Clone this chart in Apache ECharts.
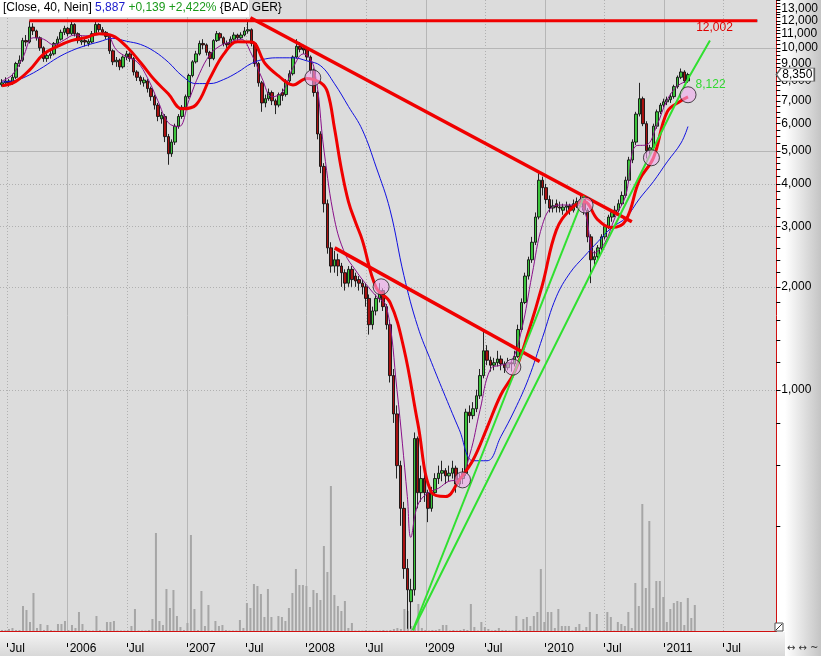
<!DOCTYPE html>
<html><head><meta charset="utf-8">
<script src="https://cdn.jsdelivr.net/npm/echarts@6/dist/echarts.min.js"></script>
<style>html,body{margin:0;padding:0;background:#fff;}#c{width:821px;height:656px;}</style>
</head><body><div id="c"></div>
<script>
// ---------------- data ----------------
const axisStartDate = '2005-06-08';
const axisEndDate = '2011-12-09';
const firstBarDate = '2005-06-14';
const barDays = 10.6;               // period length of one bar
// [open, close, low, high]
const ohlc = [
[7.8,7.9,7.7,8.1],[7.9,8.0,7.8,8.2],[8.0,7.9,7.7,8.1],[7.9,8.2,7.8,8.4],[8.2,9.0,8.1,9.1],
[9.0,9.2,8.8,9.5],[9.2,10.5,9.1,10.7],[10.5,10.4,10.1,10.9],[10.4,11.5,10.3,12.0],[11.5,11.2,10.9,11.8],
[11.2,10.7,10.5,11.3],[10.7,10.0,9.8,10.8],[10.0,9.3,9.1,10.1],[9.3,9.5,9.1,9.8],[9.5,9.6,9.3,9.9],
[9.6,10.3,9.5,10.4],[10.3,10.6,10.1,10.8],[10.6,11.1,10.5,11.3],[11.1,11.4,10.9,11.6],[11.4,11.0,10.8,11.5],
[11.0,11.7,10.9,11.9],[11.7,11.0,10.8,11.8],[11.0,10.5,10.3,11.1],[10.4,10.5,10.2,10.8],[10.5,10.4,10.1,10.7],
[10.3,10.45,10.1,10.6],[10.4,11.0,10.3,11.2],[11.0,11.7,10.9,11.95],[11.7,11.3,11.1,11.8],[11.3,11.1,10.9,11.5],
[11.1,10.8,10.6,11.2],[10.8,9.8,9.6,10.9],[9.8,9.1,8.9,9.9],[9.1,9.2,8.8,9.4],[9.2,8.8,8.6,9.3],
[8.8,9.4,8.7,9.5],[9.4,9.6,9.2,9.8],[9.6,9.3,9.1,9.7],[9.3,8.5,8.3,9.4],[8.5,8.2,8.0,8.6],
[8.2,8.0,7.8,8.3],[7.9,8.05,7.7,8.2],[8.0,7.6,7.4,8.1],[7.6,7.2,7.0,7.7],[7.2,6.8,6.6,7.3],
[6.8,6.3,6.1,6.9],[6.2,6.35,6.0,6.5],[6.3,5.5,5.3,6.4],[5.5,4.9,4.55,5.6],[4.9,5.3,4.8,5.4],
[5.3,5.9,5.2,6.0],[5.9,6.3,5.8,6.4],[6.3,6.7,6.2,6.8],[6.7,7.2,6.6,7.3],[7.2,8.3,7.1,8.4],
[8.3,9.1,8.2,9.2],[9.1,9.6,9.0,9.8],[9.6,10.3,9.5,10.5],[10.3,10.2,9.9,10.6],[10.2,9.7,9.5,10.3],
[9.7,9.3,8.8,9.8],[9.3,10.5,9.2,10.6],[10.5,11.0,10.4,11.2],[11.0,10.7,10.5,11.1],[10.7,10.3,10.1,10.8],
[10.3,10.2,10.0,10.5],[10.2,10.6,10.1,10.8],[10.6,10.9,10.5,11.1],[10.9,10.7,10.5,11.0],[10.7,10.9,10.6,11.1],
[10.9,11.2,10.8,11.5],[11.2,11.3,11.0,12.0],[11.3,10.3,10.1,11.4],[10.3,9.0,8.8,10.4],[9.0,7.9,7.7,9.1],
[7.9,6.9,6.5,8.0],[6.9,7.1,6.7,7.3],[7.1,7.4,7.0,7.6],[7.4,7.0,6.8,7.5],[7.0,6.8,6.4,7.1],
[6.8,7.3,6.7,7.4],[7.4,7.25,7.0,7.6],[7.3,8.0,7.2,8.1],[8.0,8.4,7.9,8.6],[8.4,9.4,8.3,9.5],
[9.4,10.1,9.3,10.6],[10.1,9.9,9.7,10.4],[10.0,9.85,9.6,10.2],[9.9,9.4,9.2,10.0],[9.4,8.6,8.4,9.5],
[8.6,7.4,7.2,8.7],[7.4,5.6,5.4,7.5],[5.6,4.5,4.3,5.7],[4.5,3.5,3.3,4.6],[3.5,2.6,2.5,3.6],
[2.6,2.3,2.2,2.7],[2.3,2.4,2.2,2.55],[2.4,2.3,2.15,2.5],[2.3,2.2,2.0,2.35],[2.2,2.05,1.95,2.25],
[2.05,2.25,2.0,2.3],[2.25,2.1,2.0,2.3],[2.15,2.08,2.0,2.2],[2.1,2.05,1.95,2.15],[2.05,2.0,1.9,2.1],
[2.0,1.85,1.75,2.05],[1.85,1.55,1.45,1.9],[1.55,1.7,1.5,1.75],[1.7,1.85,1.65,1.9],[1.85,1.95,1.8,2.05],
[1.95,1.75,1.7,1.98],[1.75,1.55,1.5,1.78],[1.55,1.1,1.05,1.6],[1.1,0.85,0.8,1.15],[0.85,0.6,0.55,0.9],
[0.6,0.45,0.4,0.62],[0.45,0.3,0.28,0.47],[0.3,0.26,0.2,0.32],[0.24,0.26,0.2,0.28],[0.26,0.72,0.25,0.75],
[0.72,0.5,0.45,0.73],[0.5,0.55,0.47,0.6],[0.55,0.5,0.47,0.57],[0.5,0.45,0.41,0.51],[0.45,0.5,0.44,0.52],
[0.5,0.55,0.49,0.57],[0.55,0.57,0.53,0.6],[0.57,0.58,0.54,0.62],[0.58,0.56,0.53,0.59],[0.56,0.57,0.54,0.6],
[0.57,0.59,0.55,0.62],[0.59,0.53,0.5,0.6],[0.53,0.55,0.52,0.57],[0.55,0.57,0.53,0.59],[0.57,0.86,0.56,0.88],
[0.86,0.84,0.8,0.9],[0.84,0.88,0.82,0.92],[0.88,0.96,0.86,1.0],[0.96,1.1,0.94,1.15],[1.1,1.3,1.08,1.5],
[1.3,1.22,1.18,1.35],[1.22,1.18,1.13,1.25],[1.18,1.2,1.14,1.24],[1.2,1.23,1.17,1.3],[1.23,1.19,1.14,1.26],
[1.19,1.16,1.12,1.21],[1.16,1.2,1.14,1.24],[1.2,1.19,1.13,1.22],[1.19,1.25,1.17,1.3],[1.25,1.5,1.24,1.55],
[1.5,1.8,1.48,1.85],[1.8,2.15,1.78,2.2],[2.15,2.4,2.1,2.45],[2.4,2.7,2.35,2.8],[2.7,3.2,2.65,3.3],
[3.2,4.1,3.15,4.3],[4.1,3.9,3.7,4.2],[3.9,3.6,3.5,4.0],[3.6,3.4,3.3,3.7],[3.4,3.45,3.3,3.6],
[3.5,3.42,3.3,3.6],[3.42,3.4,3.3,3.55],[3.35,3.42,3.25,3.5],[3.42,3.45,3.3,3.55],[3.45,3.35,3.25,3.5],
[3.35,3.5,3.3,3.6],[3.5,3.55,3.4,3.65],[3.55,3.6,3.45,3.75],[3.6,3.35,3.25,3.65],[3.35,2.8,2.7,3.4],
[2.8,2.4,2.05,2.85],[2.4,2.45,2.3,2.55],[2.45,2.6,2.4,2.65],[2.6,2.8,2.55,2.85],[2.8,3.0,2.75,3.05],
[3.0,3.2,2.95,3.25],[3.2,3.3,3.1,3.35],[3.3,3.35,3.2,3.45],[3.35,3.5,3.3,3.6],[3.5,3.7,3.45,3.8],
[3.7,4.1,3.65,4.2],[4.1,4.7,4.05,4.8],[4.7,5.3,4.6,5.4],[5.3,6.4,5.2,6.5],[6.4,7.1,6.3,7.9],
[7.1,6.0,5.9,7.2],[6.0,5.0,4.75,6.1],[5.0,5.1,4.8,5.2],[5.1,5.9,5.0,6.0],[5.9,6.5,5.8,6.6],
[6.5,6.8,6.4,6.9],[6.8,6.95,6.7,7.1],[6.95,7.05,6.8,7.2],[7.05,7.2,6.9,7.35],[7.2,7.7,7.1,7.8],
[7.7,8.2,7.6,8.3],[8.2,8.5,8.1,8.7],[8.5,8.0,7.9,8.6],[8.0,8.35,7.9,8.45]
];
const volume = [
1,1,2,3,1,1,25,21,9,38,3,7,1,6,1,0.5,7,7,10,1,
6,3,19,7,1,0.5,0.5,15,1,0.5,9,9,10,0.5,0.5,0.5,0.5,5,22,0.5,
0.5,0.5,1,12,98,10,6,42,23,41,15,4,1,8,96,22,1,40,5,26,
0.5,10,5,6,1,0.5,0.5,0.5,11,3,28,23,47,45,37,14,42,14,1,15,
14,10,23,38,62,46,46,45,24,41,38,31,85,59,145,36,25,20,30,3,
8,0.5,0.5,0.5,1,0.5,0.5,0.5,0.5,1,0.5,1,2,3,2,22,20,5,6,27,
3,1,0.5,1,1,2,6,6,0.5,1,0.5,1,2,1,27,4,0.5,9,4,2,
0.5,1,3,1,1,0.5,0.5,15,1,12,14,5,15,19,62,9,19,19,3,22,
5,5,5,0.5,4,7,1,4,19,0.5,17,0.5,0.5,19,14,0.5,9,7,5,19,
3,48,25,127,43,110,23,50,50,34,9,22,28,30,29,6,33,13,26
];
// moving averages: [bar index, value]
const redMA = [[0,7.74],[4,7.98],[8,8.62],[12,9.58],[16,10.1],[20,10.5],[24,10.7],[28,10.99],[32,10.84],[36,10.07],
[40,9.06],[44,8.06],[48,7.34],[52,6.63],[56,6.81],[60,8.14],[64,9.58],[68,10.41],[72,10.4],[76,8.98],[80,8.25],
[84,7.79],[88,8.14],[92,7.9],[94,7.4],[96,5.8],[98,4.4],[100,3.55],[102,3.1],[104,2.74],[108,1.99],[112,1.8],
[116,1.32],[120,0.80],[124,0.50],[128,0.487],[132,0.545],[136,0.624],[140,0.774],[144,0.967],[148,1.13],
[152,1.48],[156,2.03],[160,2.93],[164,3.36],[168,3.55],[172,3.14],[176,2.98],[180,3.12],[184,4.11],[188,4.76],
[192,6.5],[196,7.0],[198,7.19]];
const blueMA = [[0,7.95],[4,8.03],[8,8.34],[12,8.8],[16,9.35],[20,9.8],[24,10.14],[28,10.41],[32,10.66],[36,10.45],
[40,10.23],[44,9.76],[48,9.08],[52,8.28],[56,7.86],[60,7.86],[64,8.08],[68,8.48],[72,9.0],[76,9.28],[80,9.35],
[84,9.35],[88,9.16],[92,8.86],[96,7.85],[100,6.74],[104,5.76],[108,4.48],[112,3.36],[116,2.16],[120,1.53],
[124,1.2],[128,0.954],[132,0.764],[136,0.62],[140,0.62],[144,0.73],[148,0.874],[152,1.08],[156,1.42],[160,1.87],
[164,2.2],[168,2.45],[172,2.71],[176,2.98],[180,3.18],[184,3.62],[188,4.06],[192,4.64],[196,5.27],[198,5.887]];
const purpleMA = [[0,8.0],[3,8.34],[6,9.35],[9,10.7],[12,10.6],[15,10.2],[18,10.55],[21,10.9],[24,10.84],[27,10.9],
[30,10.99],[33,9.87],[36,9.41],[39,9.1],[42,8.17],[45,7.0],[48,6.04],[51,5.88],[54,7.04],[57,8.4],[60,9.54],
[63,10.14],[66,10.41],[69,10.6],[72,9.6],[75,8.17],[78,7.19],[81,7.44],[84,8.74],[87,9.6],[90,8.8],[93,4.96],
[96,3.14],[99,2.5],[102,2.24],[105,2.04],[108,1.88],[111,1.75],[114,1.0],[117,0.487],[118,0.37],[120,0.46],
[123,0.5],[126,0.515],[129,0.54],[132,0.545],[135,0.645],[138,0.874],[141,1.15],[144,1.18],[147,1.21],[150,1.5],
[153,2.17],[156,3.04],[159,3.43],[162,3.47],[165,3.47],[168,3.36],[171,2.51],[174,2.69],[177,3.2],[180,3.69],
[183,5.17],[186,5.2],[189,5.92],[192,7.04],[195,7.74],[198,8.0]];
// drawn lines: [date, value]
const resistance = [['2005-09-06',12.002],['2011-10-12',12.002]];
const downTrend1 = [['2007-07-14',12.24],['2010-09-23',3.10]];
const downTrend2 = [['2008-03-28',2.60],['2009-12-15',1.21]];
const upTrend1 = [['2008-11-22',0.198],['2010-04-30',3.69]];
const upTrend2 = [['2008-11-22',0.198],['2011-03-14',8.122],['2011-05-20',10.5]];
const signals = [['2008-01-21',8.17],['2008-08-17',2.0],['2009-04-23',0.545],['2009-09-24',1.165],
['2010-05-03',3.47],['2010-11-22',4.77],['2011-03-14',7.29]];
const lastPrice = 8.35;
const priceLabels = [1,2,3,4,5,6,7,8,9,10,11,12,13];
const gridSolidY = [5,10];
const gridDottedY = [1,2,3,4];
const yearTicks = ['2006-01-01','2007-01-01','2008-01-01','2009-01-01','2010-01-01','2011-01-01'];
const julyTicks = ['2005-07-01','2006-07-01','2007-07-01','2008-07-01','2009-07-01','2010-07-01','2011-07-01'];
const legendParts = {name:'[Close, 40, Nein]', value:'5,887', change:'+0,139 +2,422%', ticker:'{BAD GER}'};

// ---------------- helpers ----------------
const DAY = 864e5;
const ts = s => Date.parse(s + 'T00:00:00Z');
const t0 = ts(firstBarDate);
const barTime = i => t0 + i * barDays * DAY;
const fmt = v => v.toFixed(3).replace('.', ',');
const pts = arr => arr.map(([d, v]) => [ts(d), v]);
const maPts = arr => arr.map(([b, v]) => [barTime(b), v]);
const minorTicks = [];
for (let k = 2; k < 10; k += 2) minorTicks.push(k / 10);
for (let k = 10; k < 50; k += 2) minorTicks.push(k / 10);
for (let k = 20; k <= 55; k += 1) minorTicks.push(k / 4);
const xTickVals = julyTicks.concat(yearTicks).map(ts).sort((a, b) => a - b);
const FONT = '"Liberation Sans", Arial, sans-serif';

const chart = echarts.init(document.getElementById('c'), null, {renderer: 'canvas'});
const xMin = ts(axisStartDate), xMax = ts(axisEndDate);

const gridLines = [];
yearTicks.forEach(d => gridLines.push({xAxis: ts(d), lineStyle: {type: 'solid', color: '#b6b6b6', width: 1}}));
julyTicks.forEach(d => gridLines.push({xAxis: ts(d), lineStyle: {type: [1, 2], color: '#b0b0b0', width: 1}}));
gridSolidY.forEach(v => gridLines.push({yAxis: v, lineStyle: {type: 'solid', color: '#b6b6b6', width: 1}}));
gridDottedY.forEach(v => gridLines.push({yAxis: v, lineStyle: {type: [1, 2], color: '#b0b0b0', width: 1}}));

const trend = (data, color, width, z) => ({
  type: 'line', xAxisIndex: 0, yAxisIndex: 0, data, symbol: 'none', showSymbol: true,
  silent: true, z, lineStyle: {color, width}, animation: false
});

const resData = pts(resistance);
resData[1] = {value: resData[1], symbol: 'circle', symbolSize: 1,
  label: {show: true, position: 'left', distance: 24, offset: [0, 7], formatter: fmt(resistance[1][1]),
    color: '#e00000', fontSize: 12, fontFamily: FONT}};
const up2Data = pts(upTrend2);
up2Data[1] = {value: up2Data[1], symbol: 'circle', symbolSize: 1,
  label: {show: true, position: 'right', distance: 7, offset: [0, 6], formatter: fmt(upTrend2[1][1]),
    color: '#30d830', fontSize: 12, fontFamily: FONT}};

const option = {
  animation: false,
  grid: [
    {left: 0, top: 0, width: 784, height: 631, show: true, backgroundColor: '#dcdcdc', borderWidth: 0},
    {left: 0, top: 481, width: 784, height: 150}
  ],
  xAxis: [
    {type: 'value', gridIndex: 0, min: xMin, max: xMax,
     axisLine: {show: true, lineStyle: {color: '#d01010', width: 1}},
     axisTick: {show: false}, axisLabel: {show: false}, splitLine: {show: false}},
    {type: 'value', gridIndex: 1, min: xMin, max: xMax, show: false, splitLine: {show: false}},
    {type: 'value', gridIndex: 0, min: xMin, max: xMax, position: 'bottom', offset: 12,
     axisLine: {show: false}, splitLine: {show: false},
     axisTick: {show: true, customValues: xTickVals, length: 4, lineStyle: {color: '#000'}},
     axisLabel: {show: true, customValues: xTickVals, align: 'left', margin: 0, padding: [0, 0, 0, 2],
       color: '#000', fontSize: 12, fontFamily: FONT,
       formatter: v => { const d = new Date(v); return d.getUTCMonth() === 0 ? String(d.getUTCFullYear()) : 'Jul'; }}}
  ],
  yAxis: [
    {type: 'log', logBase: 10, gridIndex: 0, position: 'right', min: 0.197, max: 13.8,
     axisLine: {show: true, lineStyle: {color: '#d01010', width: 1}},
     axisTick: {show: true, inside: false, length: 4, customValues: minorTicks.concat(priceLabels), lineStyle: {color: '#000'}},
     axisLabel: {show: true, customValues: priceLabels, margin: 5, color: '#000', fontSize: 12, fontFamily: FONT,
       formatter: v => fmt(v)},
     splitLine: {show: false}},
    {type: 'value', gridIndex: 1, min: 0, max: 150, show: false, splitLine: {show: false}}
  ],
  series: [
    {type: 'line', xAxisIndex: 0, yAxisIndex: 0, data: [], silent: true,
     markLine: {silent: true, z: 1, symbol: ['none', 'none'], label: {show: false}, animation: false, data: gridLines}},
    {type: 'bar', xAxisIndex: 1, yAxisIndex: 1, z: 2, barWidth: 2, silent: true,
     data: volume.map((v, i) => [barTime(i), v]), itemStyle: {color: '#a6a6a6'}},
    {type: 'candlestick', xAxisIndex: 0, yAxisIndex: 0, z: 3, barWidth: 3, silent: true,
     data: ohlc.map((r, i) => [barTime(i), r[0], r[1], r[2], r[3]]),
     itemStyle: {color: '#3cc43c', color0: '#a81010', borderColor: '#101010', borderColor0: '#101010', borderWidth: 0.9},
     markPoint: {z: 20, silent: true, animation: false, data: [{
       coord: [xMax, lastPrice], symbol: 'path://M0,5 L5,0 L40,0 L40,10 L5,10 Z', symbolSize: [38, 13],
       symbolOffset: [19, 0], itemStyle: {color: '#ffffff', borderColor: '#606060', borderWidth: 1},
       label: {show: true, formatter: fmt(lastPrice), color: '#000', fontSize: 12, fontFamily: FONT, offset: [2, 0]}}]}},
    {type: 'line', xAxisIndex: 0, yAxisIndex: 0, z: 4, data: maPts(blueMA), smooth: 0.4, symbol: 'none', silent: true,
     lineStyle: {color: '#1010e0', width: 1}},
    {type: 'line', xAxisIndex: 0, yAxisIndex: 0, z: 4, data: maPts(purpleMA), smooth: 0.4, symbol: 'none', silent: true,
     lineStyle: {color: '#8a108a', width: 1}},
    {type: 'line', xAxisIndex: 0, yAxisIndex: 0, z: 4, data: maPts(redMA), smooth: 0.4, symbol: 'none', silent: true,
     lineStyle: {color: '#f00000', width: 3}},
    trend(resData, '#f00000', 3, 5),
    trend(pts(downTrend1), '#f00000', 3.5, 5),
    trend(pts(downTrend2), '#f00000', 3.5, 5),
    trend(pts(upTrend1), '#30e030', 2, 5),
    trend(up2Data, '#30e030', 2, 5),
    {type: 'scatter', xAxisIndex: 0, yAxisIndex: 0, z: 6, silent: true, symbolSize: 16,
     data: pts(signals), itemStyle: {color: 'rgba(242,170,238,0.75)', borderColor: '#202020', borderWidth: 1}}
  ],
  graphic: [
    {type: 'rect', z: -10, shape: {x: 785, y: 0, width: 36, height: 656},
     style: {fill: new echarts.graphic.LinearGradient(0, 0, 1, 0, [{offset: 0, color: '#ffffff'}, {offset: 1, color: '#c4c4c4'}])}},
    {type: 'rect', z: -10, shape: {x: 0, y: 632, width: 785, height: 24},
     style: {fill: new echarts.graphic.LinearGradient(0, 0, 0, 1, [{offset: 0, color: '#f4f4f4'}, {offset: 1, color: '#d8d8d8'}])}},
    {type: 'rect', z: 50, shape: {x: 0, y: 0, width: 249, height: 17}, style: {fill: '#ffffff'}},
    {type: 'text', z: 51, x: 3, y: 2, style: {
      text: '{a|' + legendParts.name + '} {b|' + legendParts.value + '} {c|' + legendParts.change + '} ' + legendParts.ticker,
      font: '12px ' + FONT, fill: '#000',
      rich: {a: {fill: '#000', font: '12px ' + FONT}, b: {fill: '#1a1acc', font: '12px ' + FONT}, c: {fill: '#1a9a1a', font: '12px ' + FONT}}}},
    {type: 'rect', z: 50, shape: {x: 775, y: 623, width: 8, height: 8}, style: {fill: '#fff', stroke: '#555', lineWidth: 1}},
    {type: 'line', z: 51, shape: {x1: 776, y1: 630, x2: 782, y2: 624}, style: {stroke: '#333', lineWidth: 1}},
    {type: 'text', z: 50, x: 787, y: 643, style: {text: '↔ ↔ ~', font: '10px "DejaVu Sans"', fill: '#333'}}
  ]
};
chart.setOption(option);
</script>
</body></html>
